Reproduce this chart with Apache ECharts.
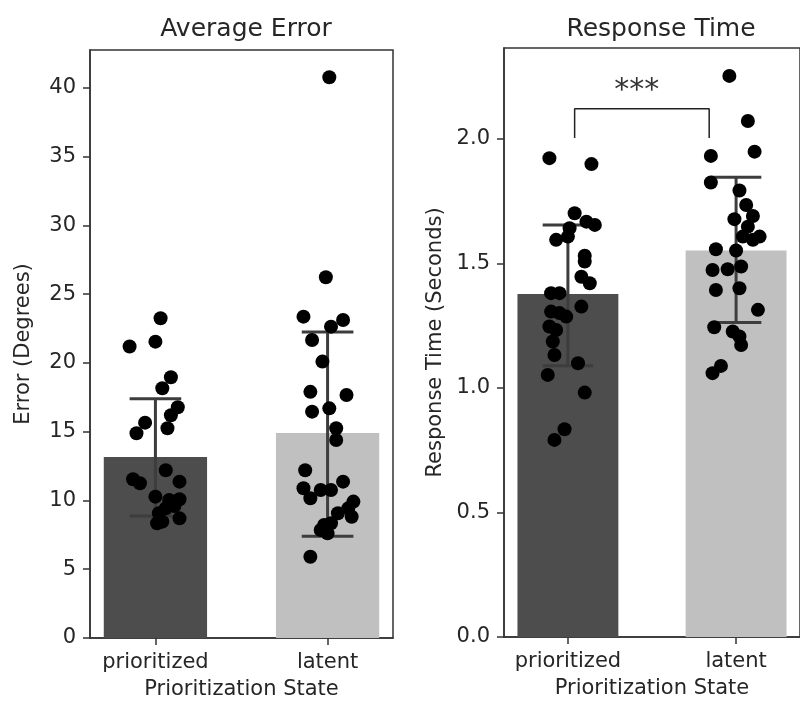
<!DOCTYPE html>
<html>
<head>
<meta charset="utf-8">
<script src="https://cdn.jsdelivr.net/npm/echarts@6/dist/echarts.min.js"></script>
<style>
html, body { margin: 0; padding: 0; background: #fff; }
#chart { width: 800px; height: 705px; }
</style>
</head>
<body>
<div id="chart"></div>
<script>
// categories and tick labels
const categories = ['prioritized', 'latent']
const errorTicks = [0, 5, 10, 15, 20, 25, 30, 35, 40]
const rtTicks = [0, 0.5, 1.0, 1.5, 2.0]

// bar heights and error bar ends
const errorMean = [13.16, 14.9]
const errorLow = [8.87, 7.4]
const errorHigh = [17.4, 22.25]
const rtMean = [1.377, 1.551]
const rtLow = [1.089, 1.262]
const rtHigh = [1.654, 1.845]

// individual subjects (value, jitter offset from the category)
const errPrioVals = [23.25, 21.2, 21.55, 18.96, 18.16, 16.78, 16.2, 15.66, 15.25, 14.89, 12.2, 11.54,
  11.25, 11.37, 10.28, 10.09, 10.04, 9.43, 9.07, 8.7, 8.46, 8.34, 9.6]
const errPrioJitter = [0.03, -0.15, 0.0, 0.09, 0.04, 0.13, 0.09, -0.06, 0.07, -0.11, 0.06, -0.13,
  -0.09, 0.14, 0.0, 0.14, 0.08, 0.06, 0.02, 0.14, 0.04, 0.01, 0.11]
const errLatVals = [40.78, 26.23, 23.37, 23.13, 22.64, 21.67, 20.1, 17.9, 17.67, 16.46, 16.7, 15.25,
  14.4, 12.2, 10.89, 10.76, 10.76, 11.37, 10.16, 9.92, 9.43, 8.82, 9.07, 8.34, 8.22, 7.85, 7.61, 5.91]
const errLatJitter = [0.01, -0.01, -0.14, 0.09, 0.02, -0.09, -0.03, -0.1, 0.11, -0.09, 0.01, 0.05,
  0.05, -0.13, -0.14, -0.04, 0.02, 0.09, -0.1, 0.15, 0.12, 0.14, 0.06, 0.02, -0.02, -0.04, 0.0, -0.1]
const rtPrioVals = [1.922, 1.898, 1.701, 1.667, 1.654, 1.641, 1.607, 1.594, 1.53, 1.507, 1.446, 1.42,
  1.38, 1.38, 1.326, 1.306, 1.3, 1.286, 1.246, 1.232, 1.186, 1.132, 1.099, 1.052, 0.981, 0.834, 0.791]
const rtPrioJitter = [-0.11, 0.14, 0.04, 0.11, 0.16, 0.01, 0.0, -0.07, 0.1, 0.1, 0.08, 0.13,
  -0.1, -0.05, 0.08, -0.1, -0.05, -0.01, -0.11, -0.07, -0.09, -0.08, 0.06, -0.12, 0.1, -0.02, -0.08]
const rtLatVals = [2.252, 2.071, 1.931, 1.948, 1.824, 1.792, 1.734, 1.677, 1.69, 1.647, 1.607, 1.607,
  1.594, 1.556, 1.551, 1.473, 1.476, 1.487, 1.393, 1.4, 1.313, 1.243, 1.226, 1.206, 1.172, 1.088, 1.059]
const rtLatJitter = [-0.04, 0.07, -0.15, 0.11, -0.15, 0.02, 0.06, -0.01, 0.1, 0.07, 0.04, 0.14,
  0.1, -0.12, 0.0, -0.14, -0.05, 0.03, -0.12, 0.02, 0.13, -0.13, -0.02, 0.02, 0.03, -0.09, -0.14]

// significance bracket on the response time panel
const bracketX = [0.04, 0.04, 0.84, 0.84]
const bracketY = [2.003, 2.12, 2.12, 2.003]
const starPos = [0.41, 2.19]

const barColors = ['#4d4d4d', '#c0c0c0']
const textColor = '#262626'
const lineColor = '#333'
const font = 'DejaVu Sans'

function points (vals, jitter, cat) {
  return vals.map((v, i) => [cat + jitter[i], v])
}

function barItems (mean, low, high) {
  return mean.map((m, i) => [i, m, low[i], high[i]])
}

function renderBar (params, api) {
  const x = api.value(0)
  const a = api.coord([x - 0.3, api.value(1)])
  const b = api.coord([x + 0.3, 0])
  return {
    type: 'rect',
    shape: { x: a[0], y: a[1], width: b[0] - a[0], height: b[1] - a[1] },
    style: { fill: barColors[params.dataIndex] }
  }
}

function renderErr (params, api) {
  const x = api.value(0)
  const lo = api.coord([x, api.value(2)])
  const hi = api.coord([x, api.value(3)])
  const l = api.coord([x - 0.15, 0])[0]
  const r = api.coord([x + 0.15, 0])[0]
  const st = { stroke: '#3d3d3d', lineWidth: 3 }
  return {
    type: 'group',
    children: [
      { type: 'line', shape: { x1: lo[0], y1: lo[1], x2: hi[0], y2: hi[1] }, style: st },
      { type: 'line', shape: { x1: l, y1: hi[1], x2: r, y2: hi[1] }, style: st },
      { type: 'line', shape: { x1: l, y1: lo[1], x2: r, y2: lo[1] }, style: st }
    ]
  }
}

function xAxis (idx) {
  return {
    type: 'value',
    gridIndex: idx,
    min: -0.38,
    max: 1.38,
    name: 'Prioritization State',
    nameLocation: 'middle',
    nameGap: 41,
    nameTextStyle: { fontFamily: font, fontSize: 21, color: textColor },
    axisLine: { show: true, onZero: false, lineStyle: { color: lineColor, width: 1.5 } },
    axisTick: { show: true, length: 7, customValues: [0, 1], lineStyle: { color: lineColor, width: 1.5 } },
    axisLabel: {
      customValues: [0, 1],
      margin: 14,
      fontFamily: font,
      fontSize: 21,
      color: textColor,
      formatter: v => categories[Math.round(v)]
    },
    splitLine: { show: false }
  }
}

function yAxis (idx, max, ticks, name, gap, digits) {
  return {
    type: 'value',
    gridIndex: idx,
    min: 0,
    max: max,
    name: name,
    nameLocation: 'middle',
    nameGap: gap,
    nameTextStyle: { fontFamily: font, fontSize: 21, color: textColor },
    axisLine: { show: true, onZero: false, lineStyle: { color: lineColor, width: 1.5 } },
    axisTick: { show: true, length: 7, customValues: ticks, lineStyle: { color: lineColor, width: 1.5 } },
    axisLabel: {
      customValues: ticks,
      margin: 14,
      fontFamily: font,
      fontSize: 21,
      color: textColor,
      formatter: v => v.toFixed(digits)
    },
    splitLine: { show: false }
  }
}

const chart = echarts.init(document.getElementById('chart'))
const dotStyle = { color: '#000', opacity: 1 }

chart.setOption({
  animation: false,
  backgroundColor: '#fff',
  title: [
    { text: 'Average Error', left: 241, top: 12, textAlign: 'center',
      textStyle: { fontFamily: font, fontSize: 25, fontWeight: 'normal', color: textColor } },
    { text: 'Response Time', left: 656, top: 12, textAlign: 'center',
      textStyle: { fontFamily: font, fontSize: 25, fontWeight: 'normal', color: textColor } }
  ],
  grid: [
    { left: 90, top: 50, width: 303, height: 588, show: true, borderColor: lineColor, borderWidth: 1.5 },
    { left: 504, top: 48, width: 304, height: 589, show: true, borderColor: lineColor, borderWidth: 1.5 }
  ],
  xAxis: [xAxis(0), xAxis(1)],
  yAxis: [
    yAxis(0, 42.76, errorTicks, 'Error (Degrees)', 56, 0),
    yAxis(1, 2.364, rtTicks, 'Response Time (Seconds)', 58, 1)
  ],
  series: [
    { type: 'custom', xAxisIndex: 0, yAxisIndex: 0, z: 1, renderItem: renderBar, data: barItems(errorMean, errorLow, errorHigh) },
    { type: 'custom', xAxisIndex: 1, yAxisIndex: 1, z: 1, renderItem: renderBar, data: barItems(rtMean, rtLow, rtHigh) },
    { type: 'custom', xAxisIndex: 0, yAxisIndex: 0, z: 2, renderItem: renderErr, data: barItems(errorMean, errorLow, errorHigh) },
    { type: 'custom', xAxisIndex: 1, yAxisIndex: 1, z: 2, renderItem: renderErr, data: barItems(rtMean, rtLow, rtHigh) },
    { type: 'scatter', xAxisIndex: 0, yAxisIndex: 0, z: 3, symbolSize: 14, itemStyle: dotStyle, data: points(errPrioVals, errPrioJitter, 0) },
    { type: 'scatter', xAxisIndex: 0, yAxisIndex: 0, z: 3, symbolSize: 14, itemStyle: dotStyle, data: points(errLatVals, errLatJitter, 1) },
    { type: 'scatter', xAxisIndex: 1, yAxisIndex: 1, z: 3, symbolSize: 14, itemStyle: dotStyle, data: points(rtPrioVals, rtPrioJitter, 0) },
    { type: 'scatter', xAxisIndex: 1, yAxisIndex: 1, z: 3, symbolSize: 14, itemStyle: dotStyle, data: points(rtLatVals, rtLatJitter, 1) },
    {
      type: 'line',
      xAxisIndex: 1,
      yAxisIndex: 1,
      z: 3,
      symbol: 'none',
      lineStyle: { color: '#222', width: 1.5 },
      data: bracketX.map((x, i) => [x, bracketY[i]])
    },
    {
      type: 'scatter',
      xAxisIndex: 1,
      yAxisIndex: 1,
      symbolSize: 0,
      data: [starPos],
      label: {
        show: true,
        position: 'inside',
        formatter: '***',
        fontFamily: font,
        fontSize: 30,
        color: '#000',
        textBorderWidth: 0
      }
    }
  ]
})
</script>
</body>
</html>
